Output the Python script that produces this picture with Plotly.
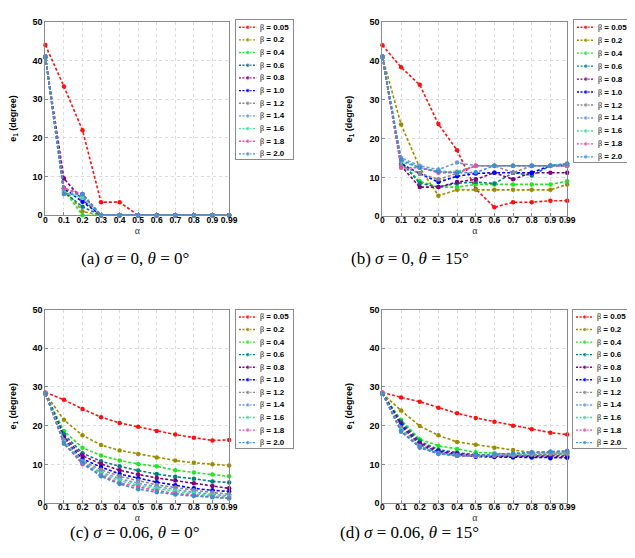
import plotly.graph_objects as go

alpha = [0, 0.1, 0.2, 0.3, 0.4, 0.5, 0.6, 0.7, 0.8, 0.9, 0.99]
alpha_ticks = ["0", "0.1", "0.2", "0.3", "0.4", "0.5", "0.6", "0.7", "0.8", "0.9", "0.99"]
betas = ["0.05", "0.2", "0.4", "0.6", "0.8", "1.0", "1.2", "1.4", "1.6", "1.8", "2.0"]
colors = ["#ff1010", "#9c8c00", "#22e822", "#008080", "#800080", "#0000ff",
          "#888888", "#6a9bd8", "#40e0a0", "#e84fa8", "#3c8fd0"]

# (a) sigma = 0, theta = 0
e1_a = [
    [44, 33.3, 22, 3.4, 3.4, 0, 0, 0, 0, 0, 0],
    [41, 7, 1, 0, 0, 0, 0, 0, 0, 0, 0],
    [41, 6.5, 0, 0, 0, 0, 0, 0, 0, 0, 0],
    [41, 6, 2.2, 0, 0, 0, 0, 0, 0, 0, 0],
    [41, 9.5, 4, 0, 0, 0, 0, 0, 0, 0, 0],
    [41, 7, 3.5, 0, 0, 0, 0, 0, 0, 0, 0],
    [41, 7, 5, 0, 0, 0, 0, 0, 0, 0, 0],
    [41, 5.5, 5.5, 0, 0, 0, 0, 0, 0, 0, 0],
    [41, 6, 4.5, 0, 0, 0, 0, 0, 0, 0, 0],
    [41, 7, 5.5, 0, 0, 0, 0, 0, 0, 0, 0],
    [41, 5.5, 5.5, 0, 0, 0, 0, 0, 0, 0, 0],
]
# (b) sigma = 0, theta = 15
e1_b = [
    [44, 38.3, 33.8, 23.7, 17, 7, 2.3, 3.6, 3.6, 4, 4],
    [41, 23.6, 12.5, 5.3, 6.8, 6.8, 6.8, 6.8, 6.8, 6.8, 8.2],
    [41, 14, 9, 7.5, 7.5, 8.2, 8.2, 8.2, 8.2, 8.2, 9],
    [41, 14, 8.5, 7.5, 8.5, 8.8, 8.4, 11.2, 10.5, 13, 13.5],
    [41, 13, 7.5, 7.5, 8.8, 9.5, 11.2, 9.5, 11.2, 11.2, 11.2],
    [41, 13.5, 11, 8.8, 10.3, 11, 11.2, 11.2, 11.2, 13, 13],
    [41, 13, 11, 9.5, 11, 13, 13, 11.2, 13, 13, 13],
    [41, 15, 13, 12, 13.8, 13, 13, 13, 13, 13, 13.5],
    [41, 14, 12.5, 11.5, 11.5, 13, 13, 13, 13, 13, 13],
    [41, 12.5, 12.5, 11.2, 11.2, 13, 13, 13, 13, 13, 13],
    [41, 14.5, 12.5, 11.5, 11.2, 11.3, 13, 13, 13, 13, 13.5],
]
# (c) sigma = 0.06, theta = 0
e1_c = [
    [28.6, 26.7, 24.3, 22.2, 20.7, 19.7, 18.6, 17.7, 16.9, 16.2, 16.3],
    [28.3, 21.5, 17.5, 15.0, 13.6, 12.7, 11.8, 11.0, 10.4, 10.0, 9.7],
    [28.3, 18.6, 14.3, 12.3, 11.0, 10.1, 9.5, 8.5, 7.9, 7.4, 6.9],
    [28.3, 17.8, 12.9, 10.8, 9.5, 8.4, 7.5, 6.8, 6.3, 5.6, 5.3],
    [28.3, 17.1, 12.2, 10.1, 8.5, 7.4, 6.5, 5.8, 5.1, 4.4, 3.8],
    [28.3, 16.5, 11.4, 9.3, 7.5, 6.4, 5.4, 4.6, 3.8, 3.3, 3.0],
    [28.3, 16.3, 10.9, 8.6, 6.9, 5.8, 4.7, 4.0, 3.3, 2.7, 2.3],
    [28.3, 16.0, 10.5, 8.0, 6.3, 5.1, 4.2, 3.4, 2.8, 2.2, 1.9],
    [28.3, 15.8, 10.2, 7.6, 5.8, 4.6, 3.7, 3.0, 2.4, 1.9, 1.6],
    [28.3, 15.5, 10.0, 7.2, 5.2, 4.2, 3.2, 2.5, 2.0, 1.6, 1.3],
    [28.3, 15.3, 10.5, 6.9, 4.9, 3.6, 2.8, 2.2, 1.8, 1.5, 1.2],
]
# (d) sigma = 0.06, theta = 15
e1_d = [
    [28.6, 27.3, 26.2, 24.6, 23.2, 22.0, 21.0, 20.0, 19.1, 18.2, 17.7],
    [28.3, 23.9, 19.9, 17.5, 15.8, 15.1, 14.3, 13.7, 13.1, 12.9, 12.9],
    [28.3, 21.5, 16.5, 14.8, 14.0, 13.1, 12.9, 12.5, 12.5, 12.5, 12.7],
    [28.3, 21.0, 16.0, 13.8, 13.0, 12.5, 12.3, 12.2, 12.2, 12.3, 12.3],
    [28.3, 20.5, 15.5, 13.5, 12.8, 12.3, 12.1, 12.0, 12.0, 12.0, 12.0],
    [28.3, 20.0, 15.0, 13.2, 12.5, 12.0, 11.9, 11.8, 11.8, 11.6, 11.7],
    [28.3, 19.5, 14.8, 13.0, 12.3, 12.2, 12.2, 12.3, 12.5, 12.6, 12.7],
    [28.3, 19.0, 14.6, 12.9, 12.2, 12.2, 12.4, 12.6, 12.8, 13.0, 13.1],
    [28.3, 18.8, 14.5, 12.8, 12.2, 12.2, 12.4, 12.7, 12.9, 13.1, 13.3],
    [28.3, 18.6, 14.3, 12.7, 12.2, 12.2, 12.5, 12.8, 13.0, 13.2, 13.4],
    [28.3, 18.4, 14.5, 12.8, 12.3, 12.3, 12.6, 12.9, 13.1, 13.3, 13.5],
]
captions = ["(a) <i>σ</i> = 0, <i>θ</i> = 0°", "(b) <i>σ</i> = 0, <i>θ</i> = 15°",
            "(c) <i>σ</i> = 0.06, <i>θ</i> = 0°", "(d) <i>σ</i> = 0.06, <i>θ</i> = 15°"]

W, H = 635, 558
# panel pixel boxes: (x0, x1, ytop, ybottom)
boxes = [(36, 223, 9, 206), (379, 567, 9, 207), (36, 223, 302, 499), (379, 567, 302, 499)]
# legend pixel boxes: (x0, x1, ytop, ybottom)
legend_boxes = [(230, 288, 7, 149), (574, 633, 7, 152), (230, 288, 302, 443), (573, 632, 302, 443)]
caption_pos = [(127, 250), (407, 250), (127, 529), (407, 529)]
datasets = [e1_a, e1_b, e1_c, e1_d]

SANS = "Liberation Sans, Arial, sans-serif"
SERIF = "Liberation Serif, Times New Roman, serif"
GRAY = "#8a8a8a"

fig = go.Figure()
layout = dict(width=W, height=H, margin=dict(l=0, r=0, t=0, b=0),
              paper_bgcolor="white", plot_bgcolor="white", showlegend=False,
              annotations=[])

def axnames(k):
    return ("xaxis" if k == 1 else f"xaxis{k}", "yaxis" if k == 1 else f"yaxis{k}",
            "x" if k == 1 else f"x{k}", "y" if k == 1 else f"y{k}")

for p in range(4):
    # ---- data panel ----
    k = 2 * p + 1
    xa, ya, xr, yr = axnames(k)
    x0, x1, yt, yb = boxes[p]
    for i, b in enumerate(betas):
        fig.add_trace(go.Scatter(
            x=alpha, y=datasets[p][i], mode="lines+markers", name=f"β = {b}",
            line=dict(color=colors[i], width=1.6, dash="3px,2px"),
            marker=dict(color=colors[i], size=4.5, symbol="circle"),
            xaxis=xr, yaxis=yr, cliponaxis=False))
    layout[xa] = dict(domain=[x0 / W, x1 / W], anchor=yr, range=[0, 0.99],
                      tickvals=alpha, ticktext=alpha_ticks, tickangle=0,
                      ticklabelstandoff=-4,
                      showline=True, linecolor=GRAY, linewidth=1, mirror=True,
                      showgrid=True, gridcolor="#dcdcdc", griddash="dot", zeroline=False,
                      ticks="inside", ticklen=3, tickcolor=GRAY,
                      tickfont=dict(family=SANS, size=8.5, color="black", weight="bold"),
                      title=dict(text="α", font=dict(family=SERIF, size=10, color="#333"), standoff=1))
    layout[ya] = dict(domain=[1 - yb / H, 1 - yt / H], anchor=xr, range=[0, 50],
                      tickvals=[0, 10, 20, 30, 40, 50], ticklabelstandoff=0,
                      showline=True, linecolor=GRAY, linewidth=1, mirror=True,
                      showgrid=True, gridcolor="#dcdcdc", griddash="dot", zeroline=False,
                      ticks="inside", ticklen=3, tickcolor=GRAY,
                      tickfont=dict(family=SANS, size=9, color="black", weight="bold"),
                      title=dict(text="<b>e<sub>1</sub> (degree)</b>",
                                 font=dict(family=SANS, size=9, color="black"), standoff=15))
    # ---- legend box (its own hidden pixel-scaled axis) ----
    k2 = 2 * p + 2
    lxa, lya, lxr, lyr = axnames(k2)
    lx0, lx1, lyt, lyb = legend_boxes[p]
    layout[lxa] = dict(domain=[lx0 / W, lx1 / W], anchor=lyr, range=[lx0, lx1],
                       showline=True, linecolor=GRAY, mirror=True, showgrid=False,
                       zeroline=False, showticklabels=False, ticks="", fixedrange=True)
    layout[lya] = dict(domain=[1 - lyb / H, 1 - lyt / H], anchor=lxr, range=[lyb, lyt],
                       showline=True, linecolor=GRAY, mirror=True, showgrid=False,
                       zeroline=False, showticklabels=False, ticks="", fixedrange=True)
    step = (lyb - lyt - 13) / 10.0
    for i, b in enumerate(betas):
        yy = lyt + 7.5 + step * i
        fig.add_trace(go.Scatter(
            x=[lx0 + 3, lx0 + 12, lx0 + 21], y=[yy, yy, yy], mode="lines+markers",
            line=dict(color=colors[i], width=1.4, dash="2px,1.5px"),
            marker=dict(color=colors[i], size=[0, 4.5, 0]),
            xaxis=lxr, yaxis=lyr, hoverinfo="skip"))
        layout["annotations"].append(dict(
            text=f"<span style='font-family:{SERIF}'>β</span><b> = {b}</b>",
            x=lx0 + 22, y=yy, xref=lxr, yref=lyr, xanchor="left", yanchor="middle",
            showarrow=False, font=dict(family=SANS, size=8, color="black")))
    cx, cy = caption_pos[p]
    layout["annotations"].append(dict(
        text=captions[p], x=cx / W, y=1 - cy / H, xref="paper", yref="paper",
        showarrow=False, xanchor="center", yanchor="middle",
        font=dict(family=SERIF, size=17, color="black")))

fig.update_layout(**layout)
fig.write_html("out.html")
